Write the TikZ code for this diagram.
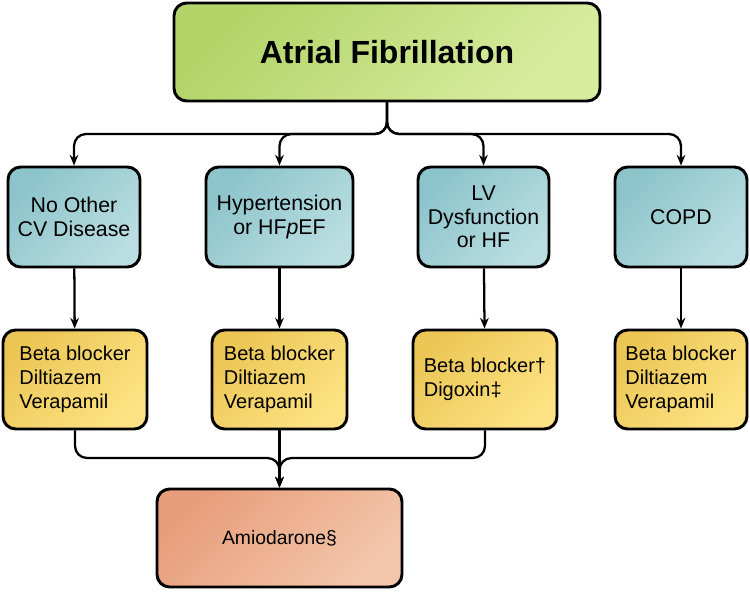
\documentclass[tikz,border=0pt]{standalone}
\usepackage{fontspec}
\setmainfont{Liberation Sans}
\usetikzlibrary{arrows.meta}

\definecolor{greenA}{HTML}{B2D468}
\definecolor{greenB}{HTML}{D8EC9F}
\definecolor{blueA}{HTML}{8CC4CB}
\definecolor{blueB}{HTML}{BADEE1}
\definecolor{yellowA}{HTML}{ECC655}
\definecolor{yellowB}{HTML}{FDE383}
\definecolor{salmonA}{HTML}{E89E7A}
\definecolor{salmonB}{HTML}{F3C6AB}

\tikzset{
  box/.style={draw, line width=2.2pt, rounded corners=9.5pt, inner sep=0pt, align=center},
  topbox/.style={box, top color=greenA, bottom color=greenB, shading angle=45,
    minimum width=319.5pt, minimum height=73.5pt, font=\fontsize{24}{28}\selectfont\bfseries},
  groupbox/.style={box, top color=blueA, bottom color=blueB, shading angle=45,
    minimum height=75pt, font=\fontsize{16}{17.5}\selectfont},
  drugbox/.style={box, top color=yellowA, bottom color=yellowB, shading angle=45,
    minimum height=74.25pt, align=left, font=\fontsize{15}{18}\selectfont},
  lastbox/.style={box, top color=salmonA, bottom color=salmonB, shading angle=45,
    minimum width=183.75pt, minimum height=73.5pt, font=\fontsize{14.5}{17}\selectfont},
  conn/.style={line width=1.7pt, rounded corners=9pt, -{Stealth[length=8pt,width=6.5pt]}}
}

\begin{document}
\begin{tikzpicture}[x=0.75pt,y=-0.75pt]
\useasboundingbox (0,0) rectangle (750,592);
% top
\node[topbox] (af) at (387,52) {Atrial Fibrillation};
% patient groups
\node[groupbox, minimum width=99pt] (none) at (74,217) {No Other\\CV Disease};
\node[groupbox, minimum width=110.25pt] (htn) at (279.5,217) {Hypertension\\or HF\textit{p}EF};
\node[groupbox, minimum width=98.25pt] (lvd) at (483.5,217) {LV\\Dysfunction\\or HF};
\node[groupbox, minimum width=99pt] (copd) at (681,217) {COPD};
% rate control drugs
\node[drugbox, minimum width=108pt] (rx1) at (75,379.5) {Beta blocker\\Diltiazem\\Verapamil};
\node[drugbox, minimum width=101.25pt] (rx2) at (279.5,379.5) {Beta blocker\\Diltiazem\\Verapamil};
\node[drugbox, minimum width=108pt] (rx3) at (485,379.5) {Beta blocker†\\Digoxin‡};
\node[drugbox, minimum width=99pt] (rx4) at (681,379.5) {Beta blocker\\Diltiazem\\Verapamil};
% last line
\node[lastbox] (amio) at (279.5,538) {Amiodarone§};
\coordinate (bus) at (387,134);
\coordinate (jn) at (279.5,458);
\draw[conn] (af.south) |- (none.north |- bus) -- (none.north);
\draw[conn] (af.south) |- (htn.north |- bus) -- (htn.north);
\draw[conn] (af.south) |- (lvd.north |- bus) -- (lvd.north);
\draw[conn] (af.south) |- (copd.north |- bus) -- (copd.north);
\draw[conn] (none) -- (rx1);
\draw[conn] (htn) -- (rx2);
\draw[conn] (lvd) -- (rx3);
\draw[conn] (copd) -- (rx4);
\draw[conn] (rx1.south) |- (jn) -- (amio.north);
\draw[conn] (rx3.south) |- (jn) -- (amio.north);
\draw[conn] (rx2.south) -- (amio.north);
\end{tikzpicture}
\end{document}
